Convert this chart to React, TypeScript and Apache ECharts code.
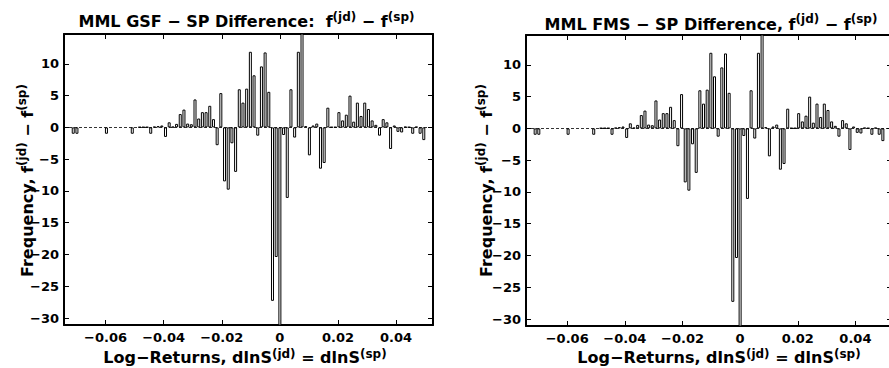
import React, { useEffect, useRef } from "react";
import * as echarts from "echarts";

// Histogram bin centres (log-returns) and frequency differences f(jd) - f(sp)
const binCenters = [
  -0.07112, -0.06985, -0.05969, -0.0508, -0.04826, -0.04699, -0.04572, -0.04445,
  -0.04318, -0.04191, -0.04064, -0.03937, -0.0381, -0.03683, -0.03556, -0.03429,
  -0.03302, -0.03175, -0.03048, -0.02921, -0.02794, -0.02667, -0.0254, -0.02413,
  -0.02286, -0.02159, -0.02032, -0.01905, -0.01778, -0.01651, -0.01524, -0.01397,
  -0.0127, -0.01143, -0.01016, -0.00889, -0.00762, -0.00635, -0.00508, -0.00381,
  -0.00254, -0.00127, 0, 0.00127, 0.00254, 0.00381, 0.00508, 0.00635,
  0.00762, 0.00889, 0.01016, 0.01143, 0.0127, 0.01397, 0.01524, 0.01651,
  0.01778, 0.01905, 0.02032, 0.02159, 0.02286, 0.02413, 0.0254, 0.02667,
  0.02794, 0.02921, 0.03048, 0.03175, 0.03302, 0.03429, 0.03556, 0.03683,
  0.0381, 0.03937, 0.04064, 0.04191, 0.04318, 0.04445, 0.04572, 0.04699,
  0.04826, 0.04953,
];
const gsfDiff = [
  -1.0, -1.0, -1.0, -1.0, 0.05, 0.05, 0.05, -1.0,
  0.1, 0.2, 0.3, -1.5, 0.8, 0.1, 0.55, 2.1,
  2.8, 0.6, 0.5, 4.4, 1.4, 2.4, 2.4, 3.4,
  1.3, -2.8, 5.4, -8.5, -9.8, -2.5, -7.0, 6.0,
  3.9, 6.1, 11.9, 8.2, -1.3, 9.6, 11.8, 5.6,
  -27.3, -20.4, -33, -1.2, -11.1, 6.0, -1.6, 11.9,
  16, 0.2, -4.4, 0.3, 0.6, -6.5, -5.6, 3.1,
  0.05, 0.05, 2.4, 1.1, 2.0, 5.0, 0.9, 3.9,
  1.8, 3.9, 2.9, 1.1, 0.4, -1.3, 1.3, 0.8,
  -3.4, 0.3, -0.7, -0.8, 0.1, 0.05, -1.0, 0.1,
  -1.0, -2.0,
];
const fmsDiff = [
  -1.0, -1.0, -1.0, -1.0, 0.05, 0.05, 0.05, -1.0,
  0.1, 0.2, 0.3, -1.5, 0.8, 0.1, 0.55, 2.1,
  2.8, 0.6, 0.5, 4.4, 1.4, 2.4, 2.4, 3.4,
  1.3, -2.8, 5.4, -8.5, -9.8, -2.5, -7.0, 6.0,
  3.9, 6.1, 11.9, 8.2, -1.3, 9.6, 11.8, 5.6,
  -27.3, -20.4, -33, -1.2, -11.1, 6.0, -1.6, 11.9,
  16, 0.2, -4.4, 0.3, 0.6, -6.5, -5.6, 3.1,
  0.05, 0.05, 2.4, 1.1, 2.0, 5.0, 0.9, 3.9,
  1.8, 3.9, 2.9, 1.1, 0.4, -1.3, 1.3, 0.8,
  -3.4, 0.3, -0.7, -0.8, 0.1, 0.05, -1.0, 0.1,
  -1.0, -2.0,
];
const xTicks = [-0.06, -0.04, -0.02, 0, 0.02, 0.04];
const yTicks = [-30, -25, -20, -15, -10, -5, 0, 5, 10];
const xMin = -0.0743;
const xMax = 0.0527;
const yMin = -31.1;
const yMax = 14.7;

const titleTexts = [
  "{m|MML GSF − SP Difference:  f}{s|(jd)}{m| − f}{s|(sp)}",
  "{m|MML FMS − SP Difference, f}{s|(jd)}{m| − f}{s|(sp)}",
];
const xLabelText = "{m|Log−Returns, dlnS}{s|(jd)}{m| = dlnS}{s|(sp)}";
const yLabelText = "{m|Frequency, f}{s|(jd)}{m| − f}{s|(sp)}";

const FONT = "DejaVu Sans";
const rich = {
  m: { fontFamily: FONT, fontWeight: "bold", fontSize: 16, lineHeight: 22, color: "#000" },
  s: { fontFamily: FONT, fontWeight: "bold", fontSize: 12, lineHeight: 13, verticalAlign: "top", color: "#000" },
};
const richX = {
  m: { fontFamily: FONT, fontWeight: "bold", fontSize: 16, lineHeight: 20, color: "#000" },
  s: { fontFamily: FONT, fontWeight: "bold", fontSize: 12, lineHeight: 13, verticalAlign: "top", color: "#000" },
};

const fmt = (v: number) => String(v).replace("-", "−");

export default function App() {
  const ref = useRef<HTMLDivElement>(null);
  useEffect(() => {
    if (!ref.current) return;
    const chart = echarts.init(ref.current, undefined, { renderer: "svg" });
    const grids = [
      { left: 64, top: 34, width: 369, height: 291 },
      { left: 526, top: 35, width: 366, height: 291 },
    ];
    const tickLabel = {
      fontFamily: FONT,
      fontWeight: "bold" as const,
      fontSize: 13,
      color: "#000",
      formatter: fmt,
    };
    const axisLine = { show: true, onZero: false, lineStyle: { color: "#000", width: 2 } };
    const xAxes: any[] = [];
    const yAxes: any[] = [];
    grids.forEach((_, i) => {
      ["bottom", "top"].forEach((pos) => {
        xAxes.push({
          gridIndex: i,
          type: "value",
          position: pos,
          min: xMin,
          max: xMax,
          axisLine,
          splitLine: { show: false },
          axisTick: { show: true, inside: true, length: 5, customValues: xTicks, lineStyle: { color: "#000", width: 1 } },
          axisLabel: pos === "bottom"
            ? { show: true, customValues: xTicks, margin: 6, ...tickLabel }
            : { show: false },
        });
      });
      ["left", "right"].forEach((pos) => {
        yAxes.push({
          gridIndex: i,
          type: "value",
          position: pos,
          min: yMin,
          max: yMax,
          axisLine,
          splitLine: { show: false },
          axisTick: { show: true, inside: true, length: 5, customValues: yTicks, lineStyle: { color: "#000", width: 1 } },
          axisLabel: pos === "left"
            ? { show: true, customValues: yTicks, margin: 5, ...tickLabel }
            : { show: false },
        });
      });
    });
    const seriesData = [gsfDiff, fmsDiff];
    const series = seriesData.map((vals, i) => ({
      type: "bar",
      xAxisIndex: i * 2,
      yAxisIndex: i * 2,
      barWidth: 3,
      clip: true,
      itemStyle: { color: "#fff", borderColor: "#000", borderWidth: 1 },
      data: binCenters.map((x, j) => [x, vals[j]]),
      markLine: {
        silent: true,
        symbol: ["none", "none"],
        label: { show: false },
        lineStyle: { type: [3, 2], color: "#000", width: 0.8 },
        data: [{ yAxis: 0 }],
      },
    }));
    const graphic: any[] = [];
    const centers = [
      { title: [246.5, 21.7], xl: [245, 357.6], yl: [27, 180.5] },
      { title: [711, 24.4], xl: [719, 357.6], yl: [486, 180.5] },
    ];
    centers.forEach((c, i) => {
      graphic.push({
        type: "text",
        x: c.title[0],
        y: c.title[1],
        style: { text: titleTexts[i], rich, align: "center", verticalAlign: "middle" },
      });
      graphic.push({
        type: "text",
        x: c.xl[0],
        y: c.xl[1],
        style: { text: xLabelText, rich: richX, align: "center", verticalAlign: "middle" },
      });
      graphic.push({
        type: "text",
        x: c.yl[0],
        y: c.yl[1],
        rotation: Math.PI / 2,
        style: { text: yLabelText, rich, align: "center", verticalAlign: "middle" },
      });
    });
    chart.setOption({
      animation: false,
      backgroundColor: "#fff",
      grid: grids.map((g) => ({ ...g, containLabel: false, outerBoundsMode: "none" })),
      xAxis: xAxes,
      yAxis: yAxes,
      series,
      graphic,
    });
    return () => chart.dispose();
  }, []);
  return (
    <div
      ref={ref}
      style={{ position: "fixed", left: 0, top: 0, width: 889, height: 368, background: "#fff" }}
    />
  );
}
